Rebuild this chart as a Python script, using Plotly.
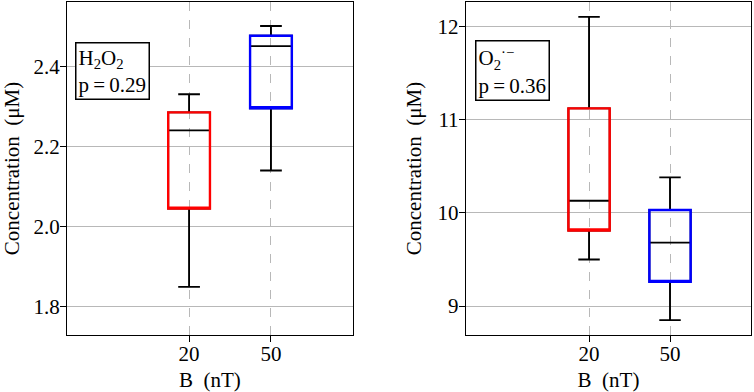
import plotly.graph_objects as go
from plotly.subplots import make_subplots

categories = ["20", "50"]
box_colors = ["red", "blue"]

h2o2_lower = [1.85, 2.14]
h2o2_q1 = [2.045, 2.295]
h2o2_median = [2.24, 2.45]
h2o2_q3 = [2.285, 2.476]
h2o2_upper = [2.33, 2.50]

o2_lower = [9.50, 8.85]
o2_q1 = [9.81, 9.26]
o2_median = [10.13, 9.68]
o2_q3 = [11.12, 10.03]
o2_upper = [12.10, 10.38]

h2o2_ticks = [1.8, 2.0, 2.2, 2.4]
o2_ticks = [9, 10, 11, 12]

FONT = "Liberation Serif"
FS = 21

fig = make_subplots(rows=1, cols=2, horizontal_spacing=0.15)

def add_boxes(col, lower, q1, med, q3, upper):
    for i, cat in enumerate(categories):
        fig.add_trace(go.Box(
            x=[cat], q1=[q1[i]], median=[med[i]], q3=[q3[i]],
            lowerfence=[lower[i]], upperfence=[upper[i]],
            width=0.51, whiskerwidth=0.52,
            line=dict(color="black", width=1.9),
            fillcolor="rgba(0,0,0,0)", boxpoints=False,
            hoverinfo="skip", showlegend=False), row=1, col=col)
        fig.add_trace(go.Box(
            x=[cat], q1=[q1[i]], median=[q1[i]], q3=[q3[i]],
            lowerfence=[q1[i]], upperfence=[q3[i]],
            width=0.51, whiskerwidth=0,
            line=dict(color=box_colors[i], width=2.4),
            fillcolor="rgba(0,0,0,0)", boxpoints=False,
            hoverinfo="skip", showlegend=False), row=1, col=col)

add_boxes(1, h2o2_lower, h2o2_q1, h2o2_median, h2o2_q3, h2o2_upper)
add_boxes(2, o2_lower, o2_q1, o2_median, o2_q3, o2_upper)

axis_common = dict(showline=True, linecolor="black", linewidth=1.3, mirror=True,
                   ticks="outside", ticklen=6, tickcolor="black", tickwidth=1,
                   tickfont=dict(family=FONT, size=FS, color="black"),
                   zeroline=False, automargin=False)

fig.update_xaxes(type="category", categoryorder="array", categoryarray=categories,
                 showgrid=True, gridcolor="#b8b8b8", griddash="dash", gridwidth=1,
                 ticklabelstandoff=-6,
                 title=dict(text="B  (nT)", font=dict(family=FONT, size=FS, color="black"), standoff=8),
                 **axis_common)
fig.update_xaxes(range=[-1.49, 2.0], domain=[0.0889, 0.468], row=1, col=1)
fig.update_xaxes(range=[-1.52, 2.0], domain=[0.618, 0.996], row=1, col=2)

fig.update_yaxes(showgrid=True, gridcolor="#b8b8b8", gridwidth=1,
                 ticklabelstandoff=-4,
                 title=dict(text="Concentration  (μM)", font=dict(family=FONT, size=FS, color="black"), standoff=10),
                 **axis_common)
fig.update_yaxes(range=[1.73, 2.56], tickvals=h2o2_ticks, ticktext=[f"{v:.1f}" for v in h2o2_ticks], row=1, col=1)
fig.update_yaxes(range=[8.69, 12.26], tickvals=o2_ticks, ticktext=[str(v) for v in o2_ticks], row=1, col=2)

ann_common = dict(showarrow=False, align="left", xanchor="left", yanchor="top",
                  bordercolor="black", borderwidth=1.5, borderpad=2, bgcolor="white",
                  font=dict(family=FONT, size=FS, color="black"))
fig.add_annotation(text="H<sub>2</sub>O<sub>2</sub><br>p\u2009=\u20090.29",
                   xref="x domain", yref="y domain", x=0.028, y=0.88, **ann_common)
fig.add_annotation(text="O<sub>2</sub><sup>·−</sup><br>p\u2009=\u20090.36",
                   xref="x2 domain", yref="y2 domain", x=0.032, y=0.886, **ann_common)

fig.update_layout(width=754, height=392, margin=dict(l=0, r=0, t=2, b=57, autoexpand=False),
                  plot_bgcolor="white", paper_bgcolor="white", boxmode="overlay",
                  showlegend=False)

fig.write_html("out.html", config={"displayModeBar": False},
               post_script="document.body.style.margin='0';document.body.style.overflow='hidden';")
